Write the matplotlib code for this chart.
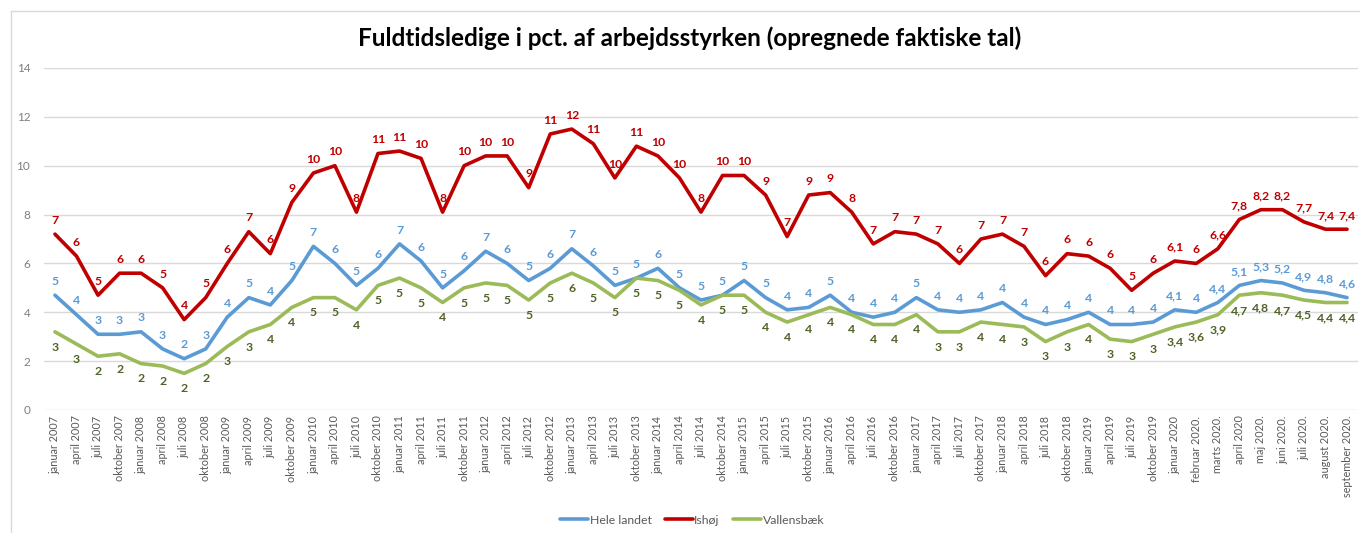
import math
import matplotlib
matplotlib.use("Agg")
import matplotlib.pyplot as plt
from matplotlib.lines import Line2D

plt.rcParams['font.family'] = ['Lato', 'DejaVu Sans']

# Kategorier (kvartaler 2007-2019, måneder 2020)
months_q = ['januar', 'april', 'juli', 'oktober']
categories = [f'{m} {y}' for y in range(2007, 2020) for m in months_q]
categories += ['januar 2020', 'februar 2020.', 'marts 2020.', 'april 2020',
               'maj 2020.', 'juni 2020.', 'juli 2020.', 'august 2020.',
               'september 2020.']

hele_landet = [4.7, 3.9, 3.1, 3.1, 3.2, 2.5, 2.1, 2.5, 3.8, 4.6, 4.3, 5.3,
               6.7, 6.0, 5.1, 5.8, 6.8, 6.1, 5.0, 5.7, 6.5, 6.0, 5.3, 5.8,
               6.6, 5.9, 5.1, 5.4, 5.8, 5.0, 4.5, 4.7, 5.3, 4.6, 4.1, 4.2,
               4.7, 4.0, 3.8, 4.0, 4.6, 4.1, 4.0, 4.1, 4.4, 3.8, 3.5, 3.7,
               4.0, 3.5, 3.5, 3.6,
               4.1, 4.0, 4.4, 5.1, 5.3, 5.2, 4.9, 4.8, 4.6]

ishoej = [7.2, 6.3, 4.7, 5.6, 5.6, 5.0, 3.7, 4.6, 6.0, 7.3, 6.4, 8.5,
          9.7, 10.0, 8.1, 10.5, 10.6, 10.3, 8.1, 10.0, 10.4, 10.4, 9.1, 11.3,
          11.5, 10.9, 9.5, 10.8, 10.4, 9.5, 8.1, 9.6, 9.6, 8.8, 7.1, 8.8,
          8.9, 8.1, 6.8, 7.3, 7.2, 6.8, 6.0, 7.0, 7.2, 6.7, 5.5, 6.4,
          6.3, 5.8, 4.9, 5.6,
          6.1, 6.0, 6.6, 7.8, 8.2, 8.2, 7.7, 7.4, 7.4]

vallensbaek = [3.2, 2.7, 2.2, 2.3, 1.9, 1.8, 1.5, 1.9, 2.6, 3.2, 3.5, 4.2,
               4.6, 4.6, 4.1, 5.1, 5.4, 5.0, 4.4, 5.0, 5.2, 5.1, 4.5, 5.2,
               5.6, 5.2, 4.6, 5.4, 5.3, 4.9, 4.3, 4.7, 4.7, 4.0, 3.6, 3.9,
               4.2, 3.9, 3.5, 3.5, 3.9, 3.2, 3.2, 3.6, 3.5, 3.4, 2.8, 3.2,
               3.5, 2.9, 2.8, 3.1,
               3.4, 3.6, 3.9, 4.7, 4.8, 4.7, 4.5, 4.4, 4.4]

n_quarters = 52  # labels vises som heltal før 2020


def fmt(i, v):
    if i < n_quarters:
        return str(math.floor(v + 0.5 + 1e-9))
    s = f'{v:.1f}'
    if s.endswith('.0'):
        s = s[:-2]
    return s.replace('.', ',')


series = [
    ('Hele landet', hele_landet, '#5B9BD5', '#5B9BD5', 'above'),
    ('Ishøj', ishoej, '#C00000', '#C00000', 'above'),
    ('Vallensbæk', vallensbaek, '#9BBB59', '#4F6228', 'below'),
]

fig = plt.figure(figsize=(13.6, 5.33), dpi=100)
ax = fig.add_axes([44.2 / 1360, 1 - 410 / 533, (1357.8 - 44.2) / 1360, (410 - 68) / 533])

x = list(range(len(categories)))
for name, vals, lc, tc, pos in series:
    ax.plot(x, vals, color=lc, lw=2.6, label=name, solid_capstyle='round')
    for i, v in enumerate(vals):
        if pos == 'above':
            ax.annotate(fmt(i, v), (i, v), xytext=(0, 6), textcoords='offset points',
                        ha='center', va='bottom', fontsize=8.8, fontweight='bold', color=tc)
        else:
            ax.annotate(fmt(i, v), (i, v), xytext=(0, -7), textcoords='offset points',
                        ha='center', va='top', fontsize=8.8, fontweight='bold', color=tc)

ax.set_xlim(-0.5, len(categories) - 0.5)
ax.set_ylim(0, 14)
ax.set_yticks(range(0, 15, 2))
ax.set_xticks(x)
ax.set_xticklabels(categories, rotation=90, fontsize=7.8, color='#595959')
ax.tick_params(axis='y', labelsize=8.5, labelcolor='#7F7F7F', length=0, pad=10)
ax.tick_params(axis='x', length=0, pad=4)
ax.grid(axis='y', color='#D9D9D9', lw=1)
ax.set_axisbelow(True)
for s in ax.spines.values():
    s.set_visible(False)

fig.text(0.507, 1 - 38 / 533, 'Fuldtidsledige i pct. af arbejdsstyrken (opregnede faktiske tal)',
         ha='center', va='center', fontsize=17.5, fontweight='bold', color='#000000')

leg = fig.legend(loc='center', bbox_to_anchor=(0.509, 1 - 520 / 533), ncol=3, frameon=False,
                 fontsize=8.8, handlelength=2.3, handletextpad=0.1, columnspacing=1.1)
for t in leg.get_texts():
    t.set_color('#595959')

# ramme om diagrammet
fig.add_artist(Line2D([11 / 1360, 11 / 1360], [0, 1 - 11 / 533], color='#D9D9D9', lw=1))
fig.add_artist(Line2D([11 / 1360, 1], [1 - 11 / 533, 1 - 11 / 533], color='#D9D9D9', lw=1))

fig.savefig('out.png', dpi=100, facecolor='white')
